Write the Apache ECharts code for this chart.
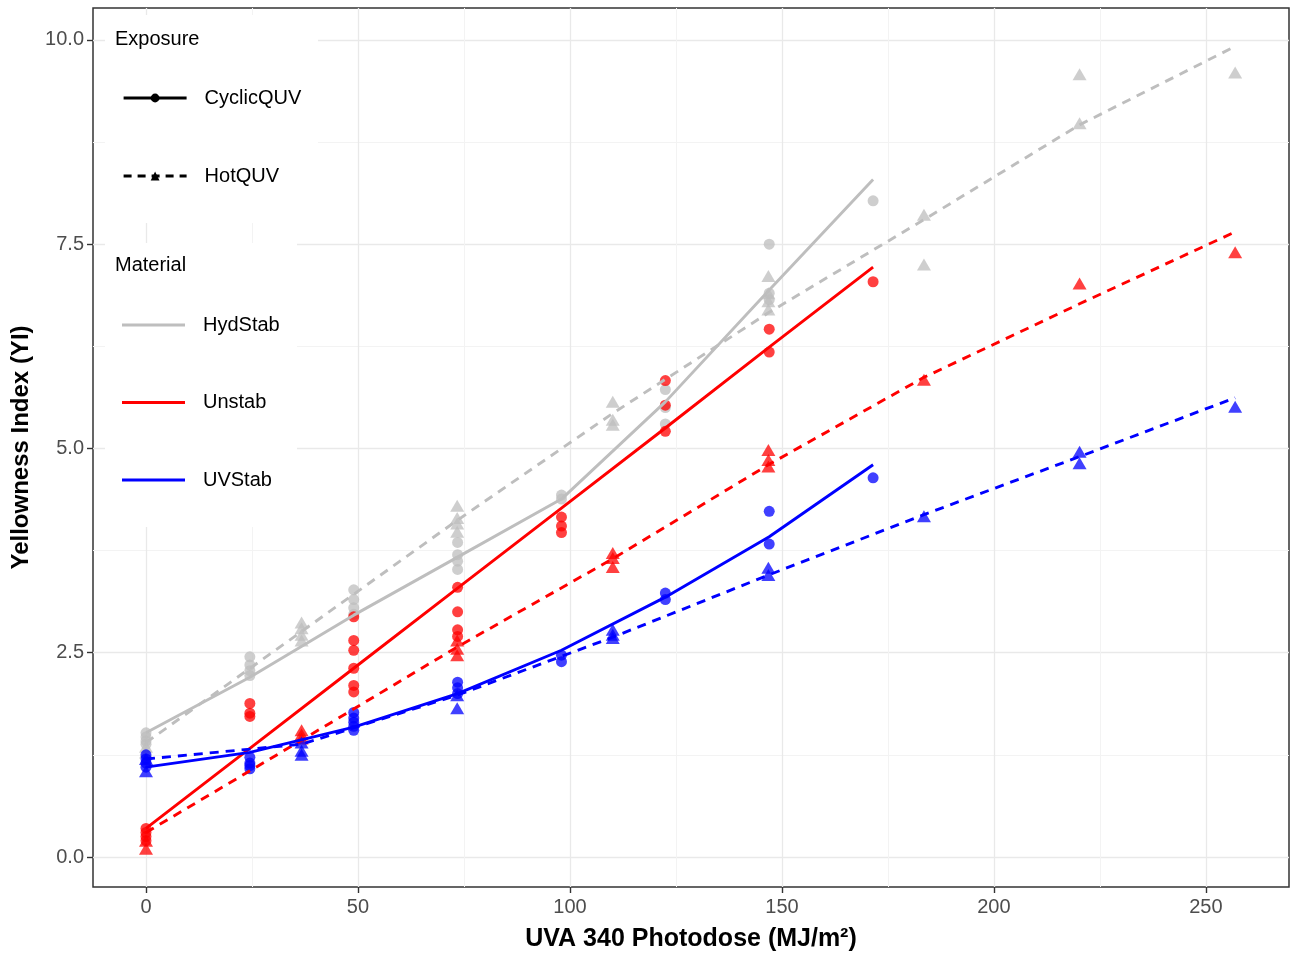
<!DOCTYPE html>
<html><head><meta charset="utf-8">
<script src="https://cdn.jsdelivr.net/npm/echarts@6/dist/echarts.min.js"></script>
<style>html,body{margin:0;padding:0;background:#fff}#c{width:1293px;height:957px}</style>
</head><body><div id="c"></div>
<script>
// ---- data ----
const cyclicX = [0, 24.5, 49, 73.5, 98, 122.5, 147, 171.5];
const hotX = [0, 36.7, 73.4, 110.1, 146.8, 183.5, 220.2, 256.9];

const hydCyclicPts = [[1.52,1.47,1.42,1.38],[2.45,2.35,2.28,2.22],[3.27,3.15,3.05,2.97],[3.85,3.7,3.62,3.52],[4.43,4.38],[5.72,5.5,5.3],[7.5,6.9,6.82],[8.03]];
const hydHotPts = [[1.35,1.28],[2.87,2.8,2.72,2.65],[4.3,4.15,4.08,3.98],[5.57,5.35,5.29],[7.11,6.9,6.8,6.7],[7.86,7.25],[9.58,8.98],[9.6]];
const unCyclicPts = [[0.35,0.3,0.25,0.2],[1.88,1.76,1.72],[2.94,2.65,2.53,2.31,2.1,2.02],[3.3,3.0,2.78,2.7],[4.16,4.05,3.97],[5.83,5.53,5.21],[6.46,6.18],[7.04]];
const unHotPts = [[0.2,0.1],[1.55,1.5,1.45],[2.65,2.55,2.47],[3.72,3.66,3.55],[4.98,4.86,4.78],[5.84],[7.02],[7.4]];
const uvCyclicPts = [[1.25,1.2,1.15,1.1],[1.22,1.15,1.12,1.08],[1.77,1.7,1.65,1.6,1.55],[2.14,2.07,2.0],[2.47,2.39],[3.23,3.15],[4.23,3.83],[4.64]];
const uvHotPts = [[1.2,1.05],[1.4,1.3,1.25],[1.98,1.82],[2.78,2.72,2.68],[3.54,3.45],[4.17],[4.96,4.82],[5.51]];

const hydCyclicFit = [1.52, 2.2, 2.96, 3.67, 4.38, 5.57, 6.94, 8.29];
const hydHotFit = [1.4, 2.76, 4.12, 5.43, 6.66, 7.8, 8.96, 9.92];
const unCyclicFit = [0.35, 1.33, 2.31, 3.29, 4.27, 5.25, 6.24, 7.22];
const unHotFit = [0.3, 1.43, 2.57, 3.65, 4.8, 5.87, 6.77, 7.65];
const uvCyclicFit = [1.1, 1.28, 1.59, 2.0, 2.53, 3.18, 3.92, 4.8];
const uvHotFit = [1.2, 1.38, 1.98, 2.69, 3.45, 4.19, 4.9, 5.62];

const materials = ['HydStab', 'Unstab', 'UVStab'];
const exposures = ['CyclicQUV', 'HotQUV'];
const xTicks = [0, 50, 100, 150, 200, 250];
const xMinorTicks = [25, 75, 125, 175, 225];
const yTicks = [0, 2.5, 5, 7.5, 10];
const yTickLabels = ['0.0', '2.5', '5.0', '7.5', '10.0'];
const yMinorTicks = [1.25, 3.75, 6.25, 8.75];

// ---- build ----
const FONT = 'Liberation Sans, Arial, sans-serif';
const colors = { HydStab: '#bebebe', Unstab: '#ff0000', UVStab: '#0000ff' };
const groups = [
  { m: 'HydStab', cyc: hydCyclicPts, hot: hydHotPts, cycFit: hydCyclicFit, hotFit: hydHotFit },
  { m: 'Unstab', cyc: unCyclicPts, hot: unHotPts, cycFit: unCyclicFit, hotFit: unHotFit },
  { m: 'UVStab', cyc: uvCyclicPts, hot: uvHotPts, cycFit: uvCyclicFit, hotFit: uvHotFit }
];
function pts(xs, g) { const o = []; xs.forEach((x, i) => g[i].forEach(v => o.push([x, v]))); return o; }
function fit(xs, v) { return xs.map((x, i) => [x, v[i]]); }

const series = [];
groups.forEach(g => {
  const c = colors[g.m];
  series.push({ type: 'scatter', name: g.m + ' pts c', data: pts(cyclicX, g.cyc), symbol: 'circle', symbolSize: 11,
    itemStyle: { color: c, opacity: 0.75 }, silent: true, z: 2 });
  series.push({ type: 'scatter', name: g.m + ' pts h', data: pts(hotX, g.hot), symbol: 'triangle', symbolSize: [14, 12],
    itemStyle: { color: c, opacity: 0.75 }, silent: true, z: 2 });
});
groups.forEach(g => {
  const c = colors[g.m];
  series.push({ type: 'line', name: g.m + ' fit c', data: fit(cyclicX, g.cycFit), symbol: 'none', silent: true, z: 3,
    lineStyle: { color: c, width: 2.9, type: 'solid' } });
  series.push({ type: 'line', name: g.m + ' fit h', data: fit(hotX, g.hotFit), symbol: 'none', silent: true, z: 3,
    lineStyle: { color: c, width: 2.9, type: [9, 7] } });
});
// legend-only series
series.push({ type: 'line', name: exposures[0], data: [], symbol: 'circle', symbolSize: 9, color: '#000',
  itemStyle: { color: '#000' }, lineStyle: { color: '#000', width: 3.2, type: 'solid' } });
series.push({ type: 'line', name: exposures[1], data: [], symbol: 'triangle', symbolSize: 9, color: '#000',
  itemStyle: { color: '#000' }, lineStyle: { color: '#000', width: 3.2, type: [8, 6] } });
materials.forEach(m => series.push({ type: 'line', name: m, data: [], symbol: 'none', color: colors[m],
  itemStyle: { color: colors[m] }, lineStyle: { color: colors[m], width: 3 } }));

const xMin = -12.5, xMax = 269.6, yMin = -0.367, yMax = 10.39;
const chart = echarts.init(document.getElementById('c'));
chart.setOption({
  animation: false,
  textStyle: { fontFamily: FONT },
  grid: { left: 93, right: 4, top: 8, bottom: 70, show: true, borderColor: '#333', borderWidth: 1.5 },
  xAxis: [{
    type: 'value', min: xMin, max: xMax, position: 'bottom',
    name: 'UVA 340 Photodose (MJ/m²)', nameLocation: 'middle', nameGap: 40,
    nameTextStyle: { fontSize: 25, fontWeight: 'bold', color: '#000', fontFamily: FONT },
    axisLine: { show: false, onZero: false },
    axisTick: { show: true, inside: false, length: 6, customValues: xTicks, lineStyle: { color: '#333', width: 1.4 } },
    axisLabel: { customValues: xTicks, fontSize: 20, color: '#4d4d4d', margin: 10, fontFamily: FONT },
    splitLine: { show: true, lineStyle: { color: '#e9e9e9', width: 1.3 } }
  }, {
    type: 'value', min: xMin, max: xMax, position: 'top',
    axisLine: { show: false, onZero: false },
    axisTick: { show: false, customValues: xMinorTicks },
    axisLabel: { show: false, customValues: xMinorTicks },
    splitLine: { show: true, lineStyle: { color: '#f3f3f3', width: 1 } }
  }],
  yAxis: [{
    type: 'value', min: yMin, max: yMax, position: 'left',
    name: 'Yellowness Index (YI)', nameLocation: 'middle', nameGap: 60,
    nameTextStyle: { fontSize: 24, fontWeight: 'bold', color: '#000', fontFamily: FONT },
    axisLine: { show: false, onZero: false },
    axisTick: { show: true, inside: false, length: 6, customValues: yTicks, lineStyle: { color: '#333', width: 1.4 } },
    axisLabel: { customValues: yTicks, fontSize: 20, color: '#4d4d4d', margin: 9, fontFamily: FONT,
      formatter: v => yTickLabels[yTicks.indexOf(+v)] !== undefined ? yTickLabels[yTicks.indexOf(+v)] : '' },
    splitLine: { show: true, lineStyle: { color: '#e9e9e9', width: 1.3 } }
  }, {
    type: 'value', min: yMin, max: yMax, position: 'right',
    axisLine: { show: false, onZero: false },
    axisTick: { show: false, customValues: yMinorTicks },
    axisLabel: { show: false, customValues: yMinorTicks },
    splitLine: { show: true, lineStyle: { color: '#f3f3f3', width: 1 } }
  }],
  graphic: [
    { type: 'rect', shape: { x: 105, y: 15, width: 213, height: 208 }, style: { fill: '#fff' }, z: 1, silent: true },
    { type: 'rect', shape: { x: 105, y: 243, width: 192, height: 284 }, style: { fill: '#fff' }, z: 1, silent: true },
    { type: 'text', x: 115, y: 39, style: { text: 'Exposure', fontSize: 20, fill: '#000', fontFamily: FONT, verticalAlign: 'middle' }, z: 10 },
    { type: 'text', x: 115, y: 265, style: { text: 'Material', fontSize: 20, fill: '#000', fontFamily: FONT, verticalAlign: 'middle' }, z: 10 }
  ],
  legend: [{
    data: exposures, orient: 'vertical', left: 122, top: 88, padding: 0,
    itemWidth: 63, itemHeight: 11, itemGap: 58, selectedMode: false,
    lineStyle: { width: 3.2 },
    textStyle: { fontSize: 20, color: '#000', fontFamily: FONT, padding: [0, 0, 0, 13] }
  }, {
    data: materials.map(m => ({ name: m, icon: 'rect' })), orient: 'vertical', left: 122, top: 315, padding: 0,
    itemWidth: 63, itemHeight: 3, itemGap: 57.5, selectedMode: false,
    textStyle: { fontSize: 20, color: '#000', fontFamily: FONT, padding: [0, 0, 0, 13] }
  }],
  series: series
});
</script></body></html>
